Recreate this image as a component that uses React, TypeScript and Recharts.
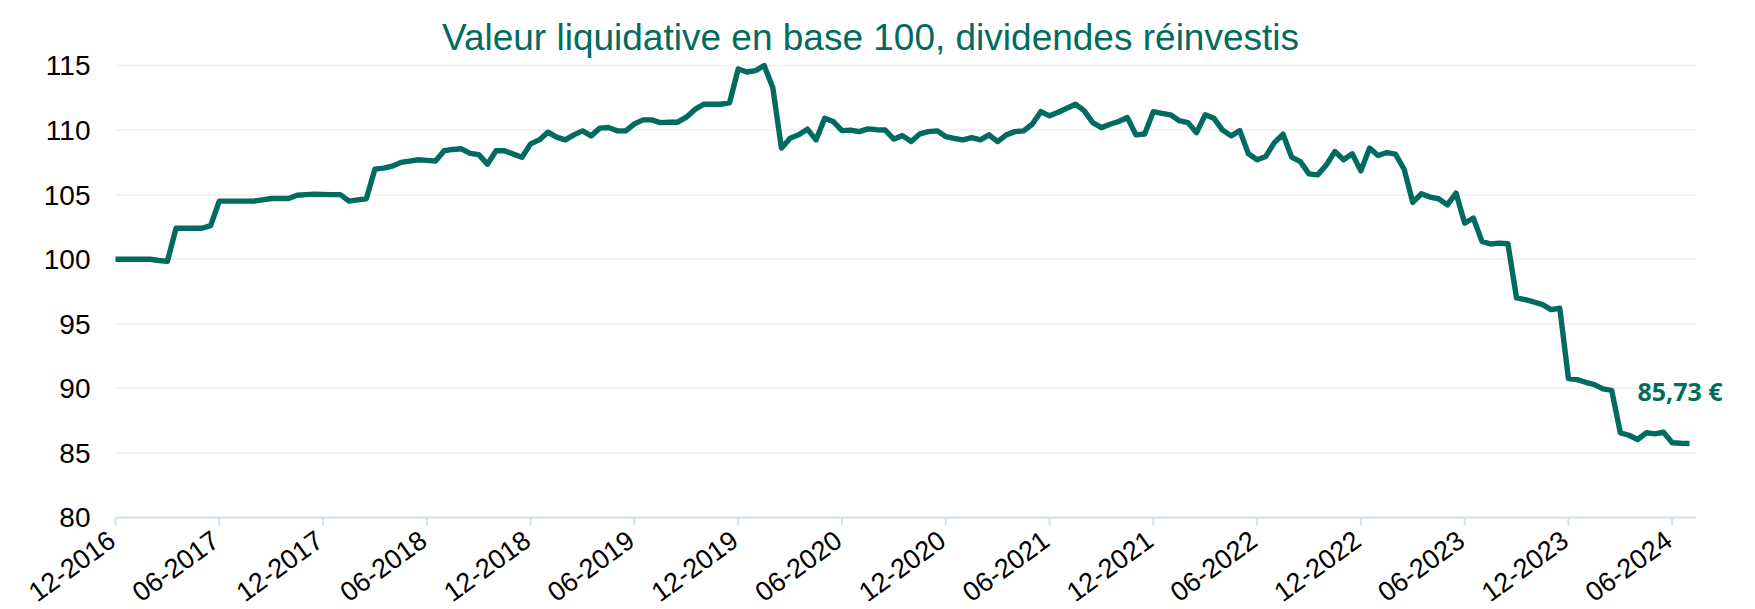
import React from 'react';
import { LineChart, Line, XAxis, YAxis, CartesianGrid } from 'recharts';

const title = 'Valeur liquidative en base 100, dividendes réinvestis';

// Net asset value, base 100, two readings per month from 12-2016 to 07-2024
const values: number[] = [
  100.0, 100.0, 100.0, 100.0, 100.0, 99.9, 99.83, 102.4, 102.4, 102.4,
  102.4, 102.6, 104.5, 104.5, 104.5, 104.5, 104.5, 104.6, 104.7, 104.7,
  104.7, 104.95, 105.0, 105.04, 105.02, 105.0, 105.0, 104.5, 104.6, 104.68,
  106.98, 107.05, 107.2, 107.5, 107.6, 107.7, 107.65, 107.6, 108.4, 108.5,
  108.55, 108.2, 108.1, 107.36, 108.4, 108.4, 108.14, 107.9, 108.93, 109.24,
  109.84, 109.45, 109.24, 109.63, 109.94, 109.55, 110.15, 110.2, 109.94, 109.94,
  110.48, 110.79, 110.79, 110.58, 110.6, 110.61, 111.0, 111.6, 112.0, 112.0,
  112.0, 112.1, 114.73, 114.5, 114.6, 115.0, 113.3, 108.6, 109.37, 109.63,
  110.07, 109.24, 110.92, 110.66, 109.96, 110.0, 109.88, 110.09, 110.03, 110.0,
  109.3, 109.57, 109.11, 109.7, 109.88, 109.94, 109.5, 109.35, 109.24, 109.42,
  109.24, 109.63, 109.11, 109.63, 109.88, 109.94, 110.45, 111.43, 111.1, 111.38,
  111.69, 112.0, 111.5, 110.58, 110.19, 110.45, 110.66, 110.97, 109.63, 109.7,
  111.43, 111.3, 111.18, 110.73, 110.58, 109.8, 111.18, 110.92, 110.0, 109.55,
  109.96, 108.16, 107.7, 107.95, 109.03, 109.68, 107.9, 107.56, 106.61, 106.53,
  107.3, 108.34, 107.7, 108.16, 106.84, 108.6, 108.03, 108.26, 108.14, 106.98,
  104.4, 105.07, 104.81, 104.68, 104.21, 105.12, 102.8, 103.19, 101.38, 101.18,
  101.25, 101.2, 97.0, 96.87, 96.69, 96.48, 96.1, 96.2, 90.76, 90.68,
  90.47, 90.29, 89.96, 89.85, 86.56, 86.37, 86.04, 86.56, 86.48, 86.6,
  85.79, 85.75, 85.73,
];

const xTickLabels: string[] = [
  '12-2016', '06-2017', '12-2017', '06-2018', '12-2018', '06-2019', '12-2019', '06-2020',
  '12-2020', '06-2021', '12-2021', '06-2022', '12-2022', '06-2023', '12-2023', '06-2024',
];
const xTickIndex: number[] = [0, 12, 24, 36, 48, 60, 72, 84, 96, 108, 120, 132, 144, 156, 168, 180];
const yTicks: number[] = [80, 85, 90, 95, 100, 105, 110, 115];

const TEAL = '#006B5E';
const FONT = '"Liberation Sans", Arial, sans-serif';

const data = values.map((v, i) => ({ i, v }));

const XTick = (props: any) => {
  const { x, y, payload } = props;
  const k = xTickIndex.indexOf(payload.value);
  const label = k >= 0 ? xTickLabels[k] : '';
  const ax = x + 2;
  const ay = y + 17;
  return (
    <text
      x={ax}
      y={ay}
      textAnchor="end"
      fontSize={27}
      fontFamily={FONT}
      fill="#000"
      transform={`rotate(-36 ${ax} ${ay})`}
    >
      {label}
    </text>
  );
};

const renderLastLabel = (props: any) => {
  const { x, y, index, value } = props;
  if (index !== values.length - 1) return <g />;
  const txt = `${Number(value).toFixed(2).replace('.', ',')} €`;
  return (
    <text
      x={x - 52}
      y={y - 43}
      fontSize={25}
      fontWeight={700}
      fontFamily='"Open Sans", sans-serif'
      fill={TEAL}
    >
      {txt}
    </text>
  );
};

export default function App() {
  return (
    <div style={{ position: 'absolute', left: 0, top: 0, width: 1755, height: 609, background: '#fff' }}>
      <LineChart width={1755} height={609} data={data} margin={{ top: 65.5, right: 59, bottom: 0, left: 0 }}>
        <CartesianGrid vertical={false} stroke="#efefef" strokeWidth={1.5} />
        <XAxis
          dataKey="i"
          type="number"
          domain={[0, 182.75]}
          ticks={xTickIndex}
          interval={0}
          height={91.5}
          axisLine={{ stroke: '#d3e2eb', strokeWidth: 2 }}
          tickLine={{ stroke: '#d3e2eb', strokeWidth: 2 }}
          tickSize={8}
          tick={<XTick />}
        />
        <YAxis
          domain={[80, 115]}
          ticks={yTicks}
          interval={0}
          width={115.5}
          axisLine={false}
          tickLine={false}
          tickSize={0}
          tickMargin={25}
          tick={{ fontSize: 28, fill: '#000', fontFamily: FONT }}
        />
        <Line
          dataKey="v"
          type="linear"
          stroke={TEAL}
          strokeWidth={5.4}
          strokeLinejoin="round"
          dot={false}
          activeDot={false}
          isAnimationActive={false}
          label={renderLastLabel}
        />
      </LineChart>
      <svg width={1755} height={609} style={{ position: 'absolute', left: 0, top: 0, pointerEvents: 'none' }}>
        <text x={870.5} y={50} textAnchor="middle" fontSize={37} fontFamily={FONT} fill={TEAL}>
          {title}
        </text>
      </svg>
    </div>
  );
}
